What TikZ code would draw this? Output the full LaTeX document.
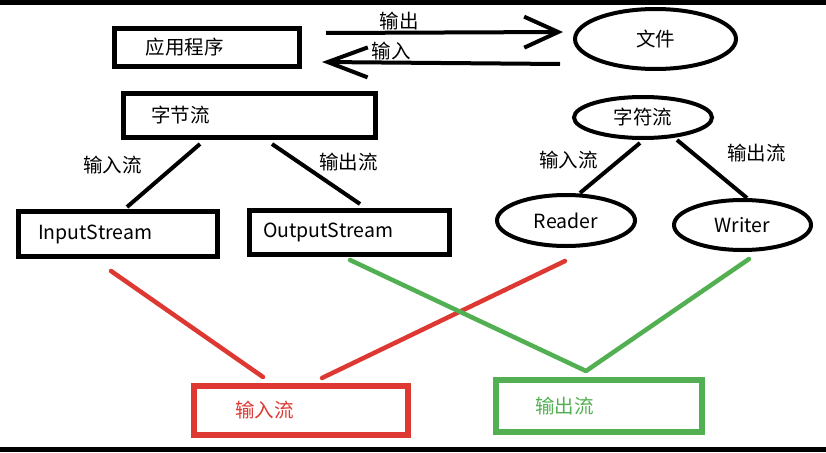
\documentclass[tikz,border=0pt]{standalone}
\usepackage{fontspec}
\setmainfont{Noto Sans CJK SC}
\usetikzlibrary{shapes.geometric,arrows.meta}
\definecolor{penred}{RGB}{221,56,50}
\definecolor{pengreen}{RGB}{82,176,82}

\begin{document}
\begin{tikzpicture}[x=1pt,y=-1pt,
    box/.style={draw, rectangle, line width=5pt, align=left, inner ysep=0pt},
    oval/.style={draw, ellipse, line width=4pt, inner sep=0pt},
    lab/.style={inner sep=0pt},
    stroke/.style={line width=4pt},
    pen/.style={line width=4.5pt, line cap=round},
    font=\fontsize{19.5}{21}\selectfont]

                        \useasboundingbox (0,0) rectangle (826,452);
                        \foreach \y in {0,447} {
                            \fill[black] (0,\y) rectangle (826,\y+5);
                        }

                        \node[box, text width=123pt, inner xsep=31pt, minimum height=38pt] (App) at (207,47.5) {应用程序};
                        \node[box, text width=197pt, inner xsep=27.5pt, minimum height=44pt] (Byte) at (249.5,115.5) {字节流};
                        \node[box, text width=160pt, inner xsep=19.5pt, minimum height=45pt] (In) at (118,234) {InputStream};
                        \node[box, text width=173pt, inner xsep=13.5pt, minimum height=44pt] (Out) at (349.5,232.5) {OutputStream};
                        \node[box, draw=penred, text=penred, line width=6pt, text width=132pt, inner xsep=41pt, minimum height=49pt] (RedBox) at (301,410.5) {输入流};
                        \node[box, draw=pengreen, text=pengreen, line width=6pt, text width=128pt, inner xsep=39pt, minimum height=52pt] (GreenBox) at (599,406) {输出流};

                        \node[oval, minimum width=161pt, minimum height=60pt] (File) at (655.5,39) {文件};
                        \node[oval, minimum width=138pt, minimum height=41pt] (Char) at (643,117.5) {字符流};
                        \node[oval, minimum width=138pt, minimum height=51pt] (Reader) at (566,220.5) {Reader};
                        \node[oval, minimum width=137pt, minimum height=50pt] (Writer) at (742.5,225) {Writer};

                        \draw[stroke, -{Straight Barb[length=34pt,width=31pt]}] ([xshift=24pt,yshift=14.5pt]App.east) -- node[lab, pos=0.31, above=1pt]{输出} ([xshift=-10pt,yshift=7pt]File.west);
                        \draw[stroke, -{Straight Barb[length=40pt,width=30pt]}] ([xshift=-13pt,yshift=-25pt]File.west) -- node[lab, pos=0.71, above=1pt]{输入} ([xshift=20pt,yshift=-14.5pt]App.east);

                        \draw[stroke] ([xshift=-49.5pt,yshift=-4pt]Byte.south) -- node[lab, pos=0.33, left=32pt]{输入流} ([xshift=9pt,yshift=2pt]In.north);
                        \draw[stroke] ([xshift=22.5pt,yshift=-4pt]Byte.south) -- node[lab, pos=0.3, right=18.6pt]{输出流} ([xshift=10.5pt,yshift=4pt]Out.north);
                        \draw[stroke] ([xshift=-3pt,yshift=-3pt]Char.south) -- node[lab, pos=0.34, left=20pt]{输入流} ([xshift=14pt]Reader.north);
                        \draw[stroke] ([xshift=34pt]Char.south) -- node[lab, pos=0.22, right=32.6pt]{输出流} ([xshift=4.5pt]Writer.north);

                        \draw[pen, penred] ([xshift=-7pt,yshift=-12pt]In.south) -- ([xshift=-38pt,yshift=6pt]RedBox.north);
                        \draw[pen, penred] ([xshift=-1pt,yshift=-13pt]Reader.south) -- ([xshift=21pt,yshift=5pt]RedBox.north);
                        \coordinate (V) at ([xshift=-13pt,yshift=6pt]GreenBox.north);
                        \draw[pen, pengreen, line join=round] ([xshift=0.5pt,yshift=-3pt]Out.south) -- (V) -- ([xshift=6.5pt,yshift=-7pt]Writer.south);
\end{tikzpicture}
\end{document}
